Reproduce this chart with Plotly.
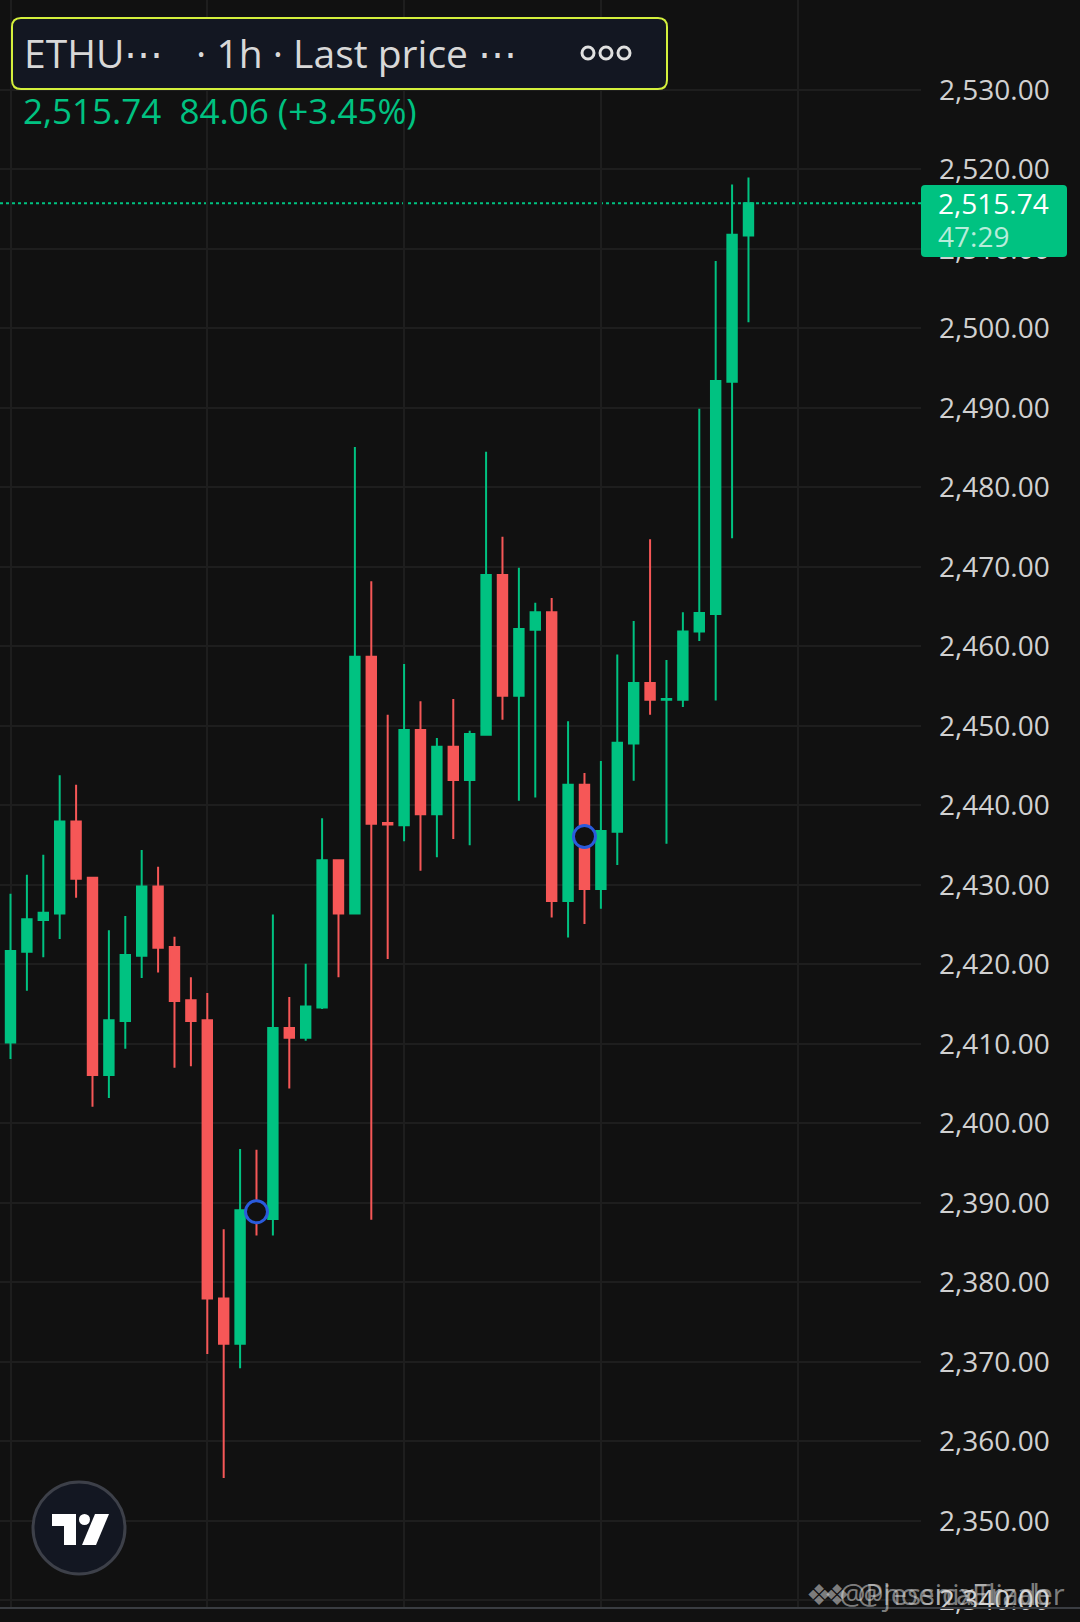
import pandas as pd
import plotly.graph_objects as go

# ============================================
# DATA  (ETHUSDT 1h candles)
# ============================================
opens = [2410.2, 2421.6, 2425.6, 2426.4, 2438.0, 2430.9, 2406.1, 2412.9, 2421.1, 2429.8,
         2422.2, 2415.5, 2413.0, 2378.0, 2372.3, 2388.7, 2388.0, 2412.0, 2410.8, 2414.6,
         2433.1, 2426.4, 2458.7, 2437.8, 2437.5, 2449.5, 2438.9, 2447.4, 2443.2, 2448.9,
         2469.0, 2453.8, 2462.1, 2464.3, 2428.0, 2442.6, 2429.5, 2436.7, 2447.8, 2455.4,
         2453.3, 2453.3, 2461.9, 2464.1, 2493.3, 2511.7]
highs = [2428.9, 2431.3, 2433.8, 2443.8, 2442.6, 2431.0, 2424.3, 2426.1, 2434.4, 2432.3,
         2423.5, 2418.4, 2416.4, 2386.7, 2396.8, 2396.7, 2426.3, 2415.9, 2420.1, 2438.4,
         2433.1, 2485.1, 2468.2, 2451.4, 2457.8, 2453.1, 2448.5, 2453.4, 2449.4, 2484.5,
         2473.8, 2469.9, 2465.5, 2466.1, 2450.6, 2444.1, 2445.6, 2459.0, 2463.2, 2473.5,
         2458.3, 2464.3, 2489.9, 2508.5, 2518.1, 2519.0]
lows = [2408.1, 2416.7, 2420.9, 2423.2, 2428.4, 2402.1, 2403.2, 2409.4, 2418.3, 2419.0,
        2407.0, 2407.2, 2371.0, 2355.4, 2369.2, 2385.9, 2385.9, 2404.4, 2410.4, 2414.4,
        2418.4, 2426.4, 2387.9, 2420.7, 2435.5, 2431.8, 2433.5, 2435.8, 2435.0, 2448.9,
        2450.8, 2440.6, 2441.0, 2425.9, 2423.4, 2425.1, 2427.0, 2432.5, 2443.1, 2451.4,
        2435.2, 2452.4, 2460.7, 2453.2, 2473.6, 2500.8]
closes = [2421.7, 2425.7, 2426.5, 2438.0, 2430.8, 2406.1, 2413.0, 2421.2, 2429.8, 2422.1,
          2415.4, 2412.9, 2378.0, 2372.3, 2389.1, 2388.3, 2412.0, 2410.8, 2414.7, 2433.1,
          2426.4, 2458.7, 2437.7, 2437.6, 2449.5, 2438.9, 2447.4, 2443.2, 2449.0, 2469.0,
          2453.8, 2462.2, 2464.3, 2428.0, 2442.6, 2429.5, 2436.8, 2447.9, 2455.4, 2453.3,
          2453.4, 2461.9, 2464.2, 2493.4, 2511.8, 2515.74]

hours = pd.date_range('2025-05-08 00:00', periods=len(opens), freq='h')

# blue event circles (candle index, price)
event_idx = [15, 35]
event_price = [2388.9, 2436.1]

last_price = 2515.74
change = 84.06
change_pct = 3.45
countdown = '47:29'

price_levels = [2340 + 10 * i for i in range(20)]

# ============================================
# COLORS
# ============================================
colors = {
    'bg': '#111111',
    'grid': '#1e1e1e',
    'up': '#00c281',
    'down': '#f65757',
    'text': '#d1d1d1',
    'header_bg': '#131722',
    'header_border': '#d4f03c',
    'blue': '#2a5bdc',
}

# ============================================
# PIXEL HELPERS (plot area = 921 x 1607 px)
# ============================================
PW, PH = 921, 1607


def px(x):
    return x / PW


def py(y):
    return 1 - y / PH


def rrect(x0, y0, x1, y1, r):
    pts = (f'M{px(x0 + r)},{py(y0)} L{px(x1 - r)},{py(y0)} Q{px(x1)},{py(y0)} {px(x1)},{py(y0 + r)} '
           f'L{px(x1)},{py(y1 - r)} Q{px(x1)},{py(y1)} {px(x1 - r)},{py(y1)} '
           f'L{px(x0 + r)},{py(y1)} Q{px(x0)},{py(y1)} {px(x0)},{py(y1 - r)} '
           f'L{px(x0)},{py(y0 + r)} Q{px(x0)},{py(y0)} {px(x0 + r)},{py(y0)} Z')
    return pts


def poly(points):
    return 'M' + ' L'.join(f'{px(a)},{py(b)}' for a, b in points) + ' Z'


# ============================================
# FIGURE
# ============================================
fig = go.Figure()

fig.add_trace(go.Candlestick(
    x=hours, open=opens, high=highs, low=lows, close=closes,
    increasing=dict(line=dict(color=colors['up'], width=2), fillcolor=colors['up']),
    decreasing=dict(line=dict(color=colors['down'], width=2), fillcolor=colors['down']),
    whiskerwidth=0,
    showlegend=False,
))

fig.add_trace(go.Scatter(
    x=[hours[i] for i in event_idx], y=event_price,
    mode='markers',
    marker=dict(symbol='circle', size=22, color=colors['bg'],
                line=dict(color=colors['blue'], width=3)),
    showlegend=False, hoverinfo='skip',
))

t0 = hours[0]
x_range = [t0 - pd.Timedelta(hours=0.64), t0 + pd.Timedelta(hours=55.52)]

shapes = [
    # last price dotted line
    dict(type='line', xref='paper', yref='y', x0=0, x1=1, y0=last_price, y1=last_price,
         line=dict(color=colors['up'], width=2, dash='dot'), layer='below'),
    # header box
    dict(type='path', xref='paper', yref='paper', path=rrect(12, 18, 667, 89, 9),
         fillcolor=colors['header_bg'], line=dict(color=colors['header_border'], width=2),
         layer='above'),
    # price label box
    dict(type='path', xref='paper', yref='paper', path=rrect(921, 185, 1067, 257, 4),
         fillcolor=colors['up'], line=dict(width=0), layer='above'),
    # bottom separator
    dict(type='line', xref='paper', yref='paper', x0=0, x1=px(1080), y0=py(1608), y1=py(1608),
         line=dict(color='#3a3d42', width=2), layer='above'),
    # tradingview logo
    dict(type='circle', xref='paper', yref='paper', x0=px(33), x1=px(125), y0=py(1482), y1=py(1574),
         fillcolor=colors['header_bg'], line=dict(color='#3d4049', width=3), layer='above'),
    dict(type='path', xref='paper', yref='paper',
         path=poly([(52, 1514), (76, 1514), (76, 1545), (64, 1545), (64, 1526), (52, 1526)]),
         fillcolor='white', line=dict(width=0), layer='above'),
    dict(type='circle', xref='paper', yref='paper', x0=px(79), x1=px(90), y0=py(1514), y1=py(1525),
         fillcolor='white', line=dict(width=0), layer='above'),
    dict(type='path', xref='paper', yref='paper',
         path=poly([(95, 1514), (109, 1514), (96, 1545), (82, 1545)]),
         fillcolor='white', line=dict(width=0), layer='above'),
]

# three "more" rings in the header
for cx in [588, 606, 624]:
    shapes.append(dict(type='circle', xref='paper', yref='paper',
                       x0=px(cx - 6), x1=px(cx + 6), y0=py(47), y1=py(59),
                       line=dict(color='#e0e0e0', width=3), fillcolor=colors['header_bg'],
                       layer='above'))

font = 'Open Sans'
annotations = [
    dict(text='ETHU⋯', x=px(22), y=py(53), xref='paper', yref='paper', xanchor='left',
         yanchor='middle', showarrow=False, font=dict(size=39, color='#d8d8d8', family=font)),
    dict(text='· 1h · Last price ⋯', x=px(194), y=py(53), xref='paper', yref='paper',
         xanchor='left', yanchor='middle', showarrow=False,
         font=dict(size=39, color='#d8d8d8', family=font)),
    dict(text=f'{last_price:,.2f}  {change:.2f} (+{change_pct:.2f}%)', x=px(21), y=py(111),
         xref='paper', yref='paper', xanchor='left', yanchor='middle', showarrow=False,
         font=dict(size=35, color=colors['up'], family=font)),
    dict(text=f'{last_price:,.2f}', x=px(936), y=py(203), xref='paper', yref='paper',
         xanchor='left', yanchor='middle', showarrow=False,
         font=dict(size=28, color='white', family=font)),
    dict(text=countdown, x=px(936), y=py(236), xref='paper', yref='paper',
         xanchor='left', yanchor='middle', showarrow=False,
         font=dict(size=28, color='rgba(255,255,255,0.72)', family=font)),
    # overlapping watermarks
    dict(text='❖ @PhoenixTrader', x=px(804), y=py(1593), xref='paper', yref='paper',
         xanchor='left', yanchor='middle', showarrow=False,
         font=dict(size=29, color='rgba(220,220,220,0.55)', family=font)),
    dict(text='❖ @jessicaElizab', x=px(822), y=py(1593), xref='paper', yref='paper',
         xanchor='left', yanchor='middle', showarrow=False,
         font=dict(size=29, color='rgba(220,220,220,0.55)', family=font)),
]

fig.update_layout(
    width=1080, height=1622,
    margin=dict(l=0, r=159, t=0, b=15),
    paper_bgcolor=colors['bg'],
    plot_bgcolor=colors['bg'],
    font=dict(family=font, color=colors['text']),
    boxgap=0.18,
    shapes=shapes,
    annotations=annotations,
    hovermode=False,
    xaxis=dict(range=x_range, rangeslider=dict(visible=False), showgrid=True,
               gridcolor=colors['grid'], gridwidth=2, dtick=12 * 3600 * 1000, tick0=t0,
               showticklabels=False, zeroline=False, showline=False, ticks=''),
    yaxis=dict(range=[2339.18, 2541.32], side='right', tickvals=price_levels,
               tickformat=',.2f', tickfont=dict(size=28, color=colors['text']),
               showgrid=True, gridcolor=colors['grid'], gridwidth=2, zeroline=False,
               showline=False, ticks='', ticklabelstandoff=17),
)

fig.write_html("out.html", config={'displayModeBar': False},
               post_script="document.body.style.margin='0';")
